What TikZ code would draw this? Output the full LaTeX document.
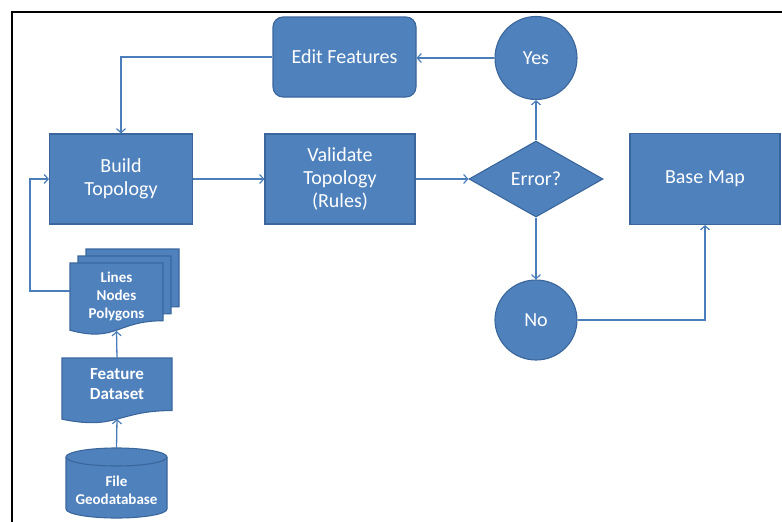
\documentclass[tikz,border=0pt]{standalone}
\usepackage{fontspec}
\setmainfont{Carlito}
\usetikzlibrary{arrows.meta,shapes.geometric,calc}
\definecolor{fillc}{HTML}{4F81BD}
\definecolor{bordc}{HTML}{3A669C}
\definecolor{linec}{HTML}{4A7EBB}
\newcommand{\docpath}[4]{(#1,#2) -- ({#1+#3},#2) -- ({#1+#3},{#2+0.802*#4}) .. controls ({#1+#3/2},{#2+0.802*#4}) and ({#1+#3/2},{#2+1.1075*#4}) .. (#1,{#2+0.934*#4}) -- cycle}
\tikzset{
  shp/.style={draw=bordc, fill=fillc, line width=1.1pt, text=white, align=center, inner sep=0pt},
  mainlbl/.style={font=\fontsize{20}{23}\selectfont},
  smalllbl/.style={font=\bfseries\fontsize{15}{18}\selectfont, text=white, align=center},
  boxnode/.style={shp, mainlbl, rectangle},
  roundnode/.style={shp, mainlbl, rectangle, rounded corners=10pt},
  circnode/.style={shp, mainlbl, ellipse},
  decnode/.style={shp, mainlbl, diamond},
  conn/.style={draw=linec, line width=1.3pt, -{Straight Barb[length=4pt,width=9pt,line width=1.2pt]}},
  frame/.style={draw=black, line width=2pt}
}
\begin{document}
\begin{tikzpicture}[x=1pt,y=-1pt]
\useasboundingbox (0,0) rectangle (782,522);
% frame
\draw[frame] (12,522) -- (12,12) -- (782,12);

% main nodes
\node[roundnode, minimum width=143pt, minimum height=80pt] (edit) at (344.5,57) {Edit Features};
\node[circnode, minimum width=82pt, minimum height=83pt] (yes) at (536,58) {Yes};
\node[boxnode, minimum width=143pt, minimum height=90pt] (build) at (121,179) {Build\\Topology};
\node[boxnode, minimum width=150pt, minimum height=90pt] (valid) at (340,179) {Validate\\Topology\\(Rules)};
\node[decnode, minimum width=134pt, minimum height=76pt] (err) at (536,179) {Error?};
\node[boxnode, minimum width=150pt, minimum height=91pt] (base) at (705,179) {Base Map};
\node[circnode, minimum width=82pt, minimum height=80pt] (no) at (536,320) {No};

% multidocument
\path[shp] \docpath{86}{249}{93}{72};
\path[shp] \docpath{78}{256}{93}{72};
\path[shp] \docpath{70}{263}{93}{72};
\node[smalllbl] (lnp) at (116.5,297) {Lines\\Nodes\\Polygons};
\coordinate (lnpw) at (70,291);
\coordinate (lnpb) at (116.5,331);

% feature dataset
\path[shp] \docpath{62}{358}{110}{65.5};
\node[smalllbl, font=\bfseries\fontsize{17}{20}\selectfont] (fd) at (117,384) {Feature\\Dataset};
\coordinate (fdt) at (117,358);
\coordinate (fdb) at (117,419);

% cylinder
\path[shp] (66,457) -- (66,509) arc[start angle=180,end angle=360,x radius=50.5pt,y radius=9pt]
  -- (167,457) arc[start angle=0,end angle=180,x radius=50.5pt,y radius=9pt] -- cycle;
\draw[draw=bordc, line width=1.1pt] (66,457) arc[start angle=180,end angle=360,x radius=50.5pt,y radius=9pt];
\node[smalllbl] (gdb) at (116.5,490) {File\\Geodatabase};
\coordinate (gdbt) at (116.5,448);

% connectors
\draw[conn] (yes.west) -- (edit.east |- yes.west);
\draw[conn] (edit.west) -| (build.north);
\draw[conn] (build.east) -- (valid.west);
\draw[conn] (valid.east) -- (err.west);
\draw[conn] (err.north) -- (yes.south);
\draw[conn] (err.south) -- (no.north);
\draw[conn] (no.east) -| (base.south);
\draw[conn] (lnpw) -- (30,291) |- (build.west);
\draw[conn] (fdt) -- (lnpb);
\draw[conn] (gdbt) -- (fdb);
\end{tikzpicture}
\end{document}
